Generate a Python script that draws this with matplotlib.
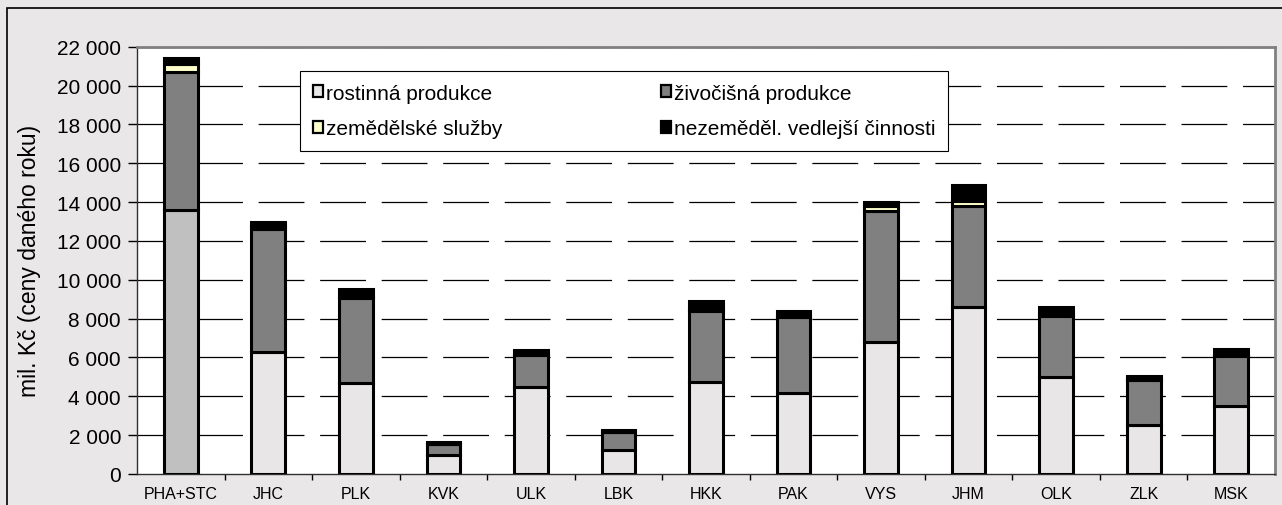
import numpy as np
import matplotlib
matplotlib.use("Agg")
import matplotlib.pyplot as plt
from matplotlib.ticker import FuncFormatter, FixedLocator
from matplotlib.patches import Rectangle

plt.rcParams['font.family'] = ['Liberation Sans', 'DejaVu Sans']
plt.rcParams['lines.scale_dashes'] = False

# kraje
regions = ["PHA+STC", "JHC", "PLK", "KVK", "ULK", "LBK", "HKK",
           "PAK", "VYS", "JHM", "OLK", "ZLK", "MSK"]

# mil. Kč
rostlinna = [13600, 6270, 4670, 960, 4460, 1230, 4720, 4150, 6810, 8610, 4980, 2540, 3480]
zivocisna = [7110, 6340, 4380, 580, 1660, 920, 3690, 3910, 6750, 5200, 3170, 2300, 2610]
sluzby = [400, 150, 110, 20, 50, 20, 120, 80, 220, 250, 100, 30, 50]
nezemedel = [290, 230, 370, 100, 210, 110, 390, 270, 200, 820, 330, 190, 290]

labels = ["rostinná produkce", "živočišná produkce",
          "zemědělské služby", "nezeměděl. vedlejší činnosti"]

bg = "#E9E7E7"
fig = plt.figure(figsize=(12.82, 5.06), dpi=100, facecolor=bg)
ax = fig.add_axes([137/1282, 1-475/506, (1275-137)/1282, (475-47.7)/506])
ax.set_facecolor("white")

# ramecek grafu
fig.patches.append(Rectangle((7/1282, -0.1), 1.2, 1-9/506+0.1, transform=fig.transFigure,
                             facecolor="none", edgecolor="black", linewidth=1.2))

x = np.arange(len(regions))
w = 0.385
ew = 2.2
c_rost = ["#C0C0C0"] + ["#E8E6E6"] * (len(regions) - 1)

b1 = ax.bar(x, rostlinna, w, color=c_rost, edgecolor="black", linewidth=ew, zorder=3)
bottom = np.array(rostlinna)
b2 = ax.bar(x, zivocisna, w, bottom=bottom, color="#808080", edgecolor="black", linewidth=ew, zorder=3)
bottom = bottom + np.array(zivocisna)
b3 = ax.bar(x, sluzby, w, bottom=bottom, color="#FFFFCC", edgecolor="black", linewidth=ew, zorder=3)
bottom = bottom + np.array(sluzby)
b4 = ax.bar(x, nezemedel, w, bottom=bottom, color="black", edgecolor="black", linewidth=ew, zorder=3)

ax.set_xlim(-0.5, len(regions) - 0.5)
ax.set_ylim(0, 22000)
ax.set_yticks(np.arange(0, 22001, 2000))
ax.yaxis.set_major_formatter(FuncFormatter(lambda v, p: f"{int(v):,}".replace(",", " ")))

ax.set_xticks(x)
ax.set_xticklabels(regions, fontsize=11.5)
ax.tick_params(axis="x", which="major", length=0, pad=9)
ax.xaxis.set_minor_locator(FixedLocator(np.arange(0.5, len(regions) - 1, 1)))
ax.tick_params(axis="x", which="minor", length=4, width=1, direction="out")
ax.tick_params(axis="y", length=6.5, width=1, direction="out", labelsize=15, pad=5)

ax.set_ylabel("mil. Kč (ceny daného roku)", fontsize=16.5, labelpad=11)

for g in ax.get_yticks()[1:]:
    ax.axhline(g, color="black", linewidth=0.9, linestyle=(1.4, (33, 11.3)), zorder=1)

for s in ["top", "right"]:
    ax.spines[s].set_color("#808080")
    ax.spines[s].set_linewidth(2)
for s in ["left", "bottom"]:
    ax.spines[s].set_color("#303030")
    ax.spines[s].set_linewidth(1)

# poradi po sloupcich: rostlinna, sluzby | zivocisna, nezemedel
handles = [b1[1], b3, b2, b4]
leg_labels = [labels[0], labels[2], labels[1], labels[3]]
leg = ax.legend(handles, leg_labels, ncol=2, loc="upper left",
                bbox_to_anchor=(300/1282, 1-72/506), bbox_transform=fig.transFigure,
                borderaxespad=0, fancybox=False, framealpha=1, edgecolor="black",
                fontsize=15, handlelength=0.5, handleheight=0.5, handletextpad=0.15,
                labelspacing=0.8, columnspacing=7.6, borderpad=0.6)
leg.get_frame().set_linewidth(0.8)
for h in leg.legend_handles:
    h.set_linewidth(1.6)

fig.savefig("out.png", dpi=100, facecolor=bg)
